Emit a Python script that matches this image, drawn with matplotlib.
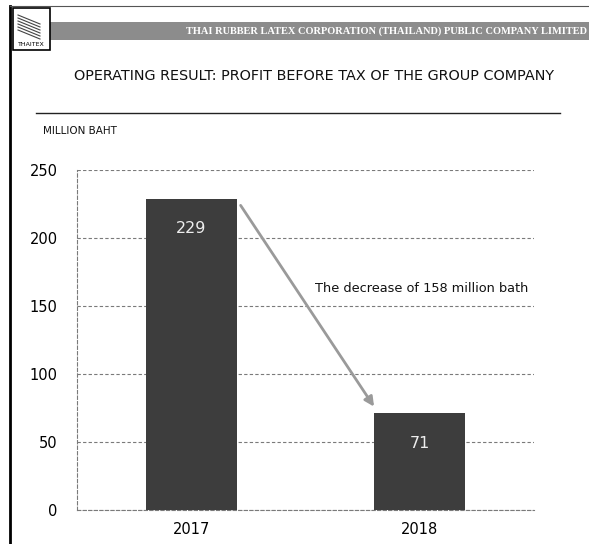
import matplotlib
matplotlib.use('Agg')
import matplotlib.pyplot as plt
from matplotlib.patches import Rectangle
from matplotlib.lines import Line2D

# data
years = ['2017', '2018']
profit = [229, 71]
bar_labels = ['229', '71']
y_ticks = [0, 50, 100, 150, 200, 250]

title = 'OPERATING RESULT: PROFIT BEFORE TAX OF THE GROUP COMPANY'
company = 'THAI RUBBER LATEX CORPORATION (THAILAND) PUBLIC COMPANY LIMITED'
unit = 'MILLION BAHT'
note = 'The decrease of 158 million bath'

font = ['DejaVu Sans']
W, H = 589, 544

fig = plt.figure(figsize=(W / 100, H / 100), dpi=100)
fig.patch.set_facecolor('white')


def fx(x):
    return x / W


def fy(y):
    return 1 - y / H


# page frame: left border and top rule
fig.add_artist(Line2D([fx(10), fx(10)], [fy(6), fy(544)], color='black', lw=2))
fig.add_artist(Line2D([fx(10), fx(589)], [fy(6), fy(6)], color='#555555', lw=0.8))

# header band
fig.add_artist(Rectangle((fx(50), fy(40)), fx(589) - fx(50), fy(22) - fy(40),
                         facecolor='#8c8c8c', edgecolor='none'))
fig.text(fx(587), fy(31), company, ha='right', va='center', color='white',
         fontsize=7.5, family='Liberation Serif', fontweight='bold')

# logo
fig.add_artist(Rectangle((fx(13), fy(50)), fx(50) - fx(13), fy(8) - fy(50),
                         facecolor='white', edgecolor='black', lw=1.2))
for i in range(6):
    fig.add_artist(Line2D([fx(18), fx(40)], [fy(15 + i * 3), fy(24 + i * 3)],
                          color='#444444', lw=0.8))
fig.text(fx(31.5), fy(45), 'THAITEX', ha='center', va='center', fontsize=4.5,
         family=font)

# title and rule
fig.text(fx(314), fy(76), title, ha='center', va='center', fontsize=10.4,
         family=font, color='#111111')
fig.add_artist(Line2D([fx(36), fx(560)], [fy(113), fy(113)], color='#222222', lw=1))
fig.text(fx(43), fy(131), unit, ha='left', va='center', fontsize=7.5,
         family=font, color='#111111')

# chart
ax = fig.add_axes([fx(77), fy(510), fx(534) - fx(77), fy(170) - fy(510)])
x = list(range(len(years)))
bars = ax.bar(x, profit, width=0.4, color='#3d3d3d', zorder=3)

ax.set_xlim(-0.5, 1.5)
ax.set_ylim(0, 250)
ax.set_yticks(y_ticks)
ax.set_xticks(x, years)
ax.yaxis.grid(True, color='#7a7a7a', linestyle=(0, (3, 2)), lw=0.8, zorder=0)
ax.set_axisbelow(True)
for s in ['top', 'right']:
    ax.spines[s].set_visible(False)
for s in ['left', 'bottom']:
    ax.spines[s].set_color('#7a7a7a')
    ax.spines[s].set_linestyle((0, (3, 2)))
    ax.spines[s].set_linewidth(0.8)
ax.tick_params(axis='both', length=0, labelsize=10.5)
ax.tick_params(axis='y', pad=14)
ax.tick_params(axis='x', pad=9)
for lab in ax.get_xticklabels() + ax.get_yticklabels():
    lab.set_family(font)

for b, lab in zip(bars, bar_labels):
    ax.text(b.get_x() + b.get_width() / 2, b.get_height() - 22, lab,
            ha='center', va='center', color='#eeeeee', fontsize=11.5,
            family=font, zorder=4)

# decrease arrow
b0, b1 = bars[0], bars[1]
ax.annotate('', xy=(b1.get_x(), profit[1] + 5),
            xytext=(b0.get_x() + b0.get_width() + 0.016, profit[0] - 5),
            arrowprops=dict(arrowstyle='-|>', color='#9a9a9a', lw=2,
                            mutation_scale=14, shrinkA=0, shrinkB=0),
            zorder=5)
ax.text(0.54, 163, note, ha='left', va='center', fontsize=9.3,
        family=font, color='#111111')

fig.savefig('out.png', dpi=100)
